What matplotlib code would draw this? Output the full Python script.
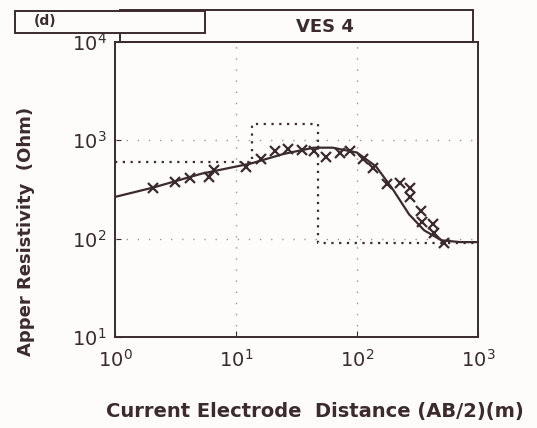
import numpy as np
import matplotlib
matplotlib.use("Agg")
import matplotlib.pyplot as plt
from matplotlib.patches import Rectangle

# measured apparent resistivity (crosses)
ab2_obs = [2.07, 3.16, 4.2, 6.0, 6.6, 12, 16, 21, 27, 35, 44, 56, 72, 88,
           112, 135, 177, 225, 276, 276, 340, 345, 425, 435, 525]
rho_obs = [330, 372, 415, 420, 500, 540, 650, 770, 810, 790, 780, 680, 750,
           780, 650, 520, 357, 370, 330, 265, 190, 146, 140, 113, 90]

# fitted model curve
ab2_fit = [1.0, 2.07, 5.2, 13.3, 24.7, 44, 63, 100, 144, 198, 270, 360,
           500, 710, 1000]
rho_fit = [265, 330, 457, 580, 725, 840, 840, 750, 540, 317, 176, 121,
           96, 92, 92]

# layered model (dotted steps)
layer_depth = [1.0, 13.5, 48, 1000]
layer_rho = [600, 1450, 90]

ink = "#3b2b2c"
paper = "#fdfcfb"

fig = plt.figure(figsize=(5.37, 4.28), dpi=100)
fig.patch.set_facecolor(paper)
ax = fig.add_axes([0.214, 0.213, 0.676, 0.689])
ax.set_facecolor(paper)
ax.set_xscale("log")
ax.set_yscale("log")
ax.set_xlim(1, 1000)
ax.set_ylim(10, 10000)

# sparse dotted grid
for gx in [10, 100]:
    ax.axvline(gx, color="#999999", lw=1.0, ls=(0, (1, 7)))
for gy in [100, 1000]:
    ax.axhline(gy, color="#999999", lw=1.0, ls=(0, (1, 7)))

# step model
step_x = []
step_y = []
for i, r in enumerate(layer_rho):
    step_x += [layer_depth[i], layer_depth[i + 1]]
    step_y += [r, r]
ax.plot(step_x, step_y, color=ink, lw=1.6, ls=(0, (1, 2.5)))

ax.plot(ab2_fit, rho_fit, color=ink, lw=1.6)
ax.plot(ab2_obs, rho_obs, ls="none", marker="x", ms=7, mew=1.6, color=ink)

for s in ax.spines.values():
    s.set_color(ink)
    s.set_linewidth(1.4)

ax.set_xticks([1, 10, 100, 1000])
ax.set_xticklabels(["$10^0$", "$10^1$", "$10^2$", "$10^3$"])
ax.set_yticks([10, 100, 1000, 10000])
ax.set_yticklabels(["$10^1$", "$10^2$", "$10^3$", "$10^4$"])
ax.minorticks_off()
ax.tick_params(axis="both", direction="in", length=4, color=ink,
               labelcolor=ink, labelsize=14)
ax.tick_params(axis="x", pad=9)
ax.tick_params(axis="y", pad=6)

ax.set_xlabel("Current Electrode  Distance (AB/2)(m)", fontsize=14,
              fontweight="bold", color=ink)
ax.xaxis.set_label_coords(0.55, -0.22)
ax.set_ylabel("Apper Resistivity  (Ohm)", fontsize=13, fontweight="bold",
              color=ink)
ax.yaxis.set_label_coords(-0.22, 0.356)

# title boxes
fig.patches.append(Rectangle((120 / 537, 1 - 42 / 428), 353 / 537, 32 / 428,
                             transform=fig.transFigure, fill=False,
                             ec=ink, lw=1.4))
fig.patches.append(Rectangle((15 / 537, 1 - 33 / 428), 190 / 537, 22 / 428,
                             transform=fig.transFigure, fc=paper,
                             ec=ink, lw=1.4, zorder=3))
fig.text(325 / 537, 1 - 27 / 428, "VES 4", ha="center", va="center",
         fontsize=13, fontweight="bold", color=ink)
fig.text(45 / 537, 1 - 21 / 428, "(d)", ha="center", va="center",
         fontsize=10, fontweight="bold", color=ink, zorder=4)

fig.savefig("out.png", dpi=100, facecolor=fig.get_facecolor())
